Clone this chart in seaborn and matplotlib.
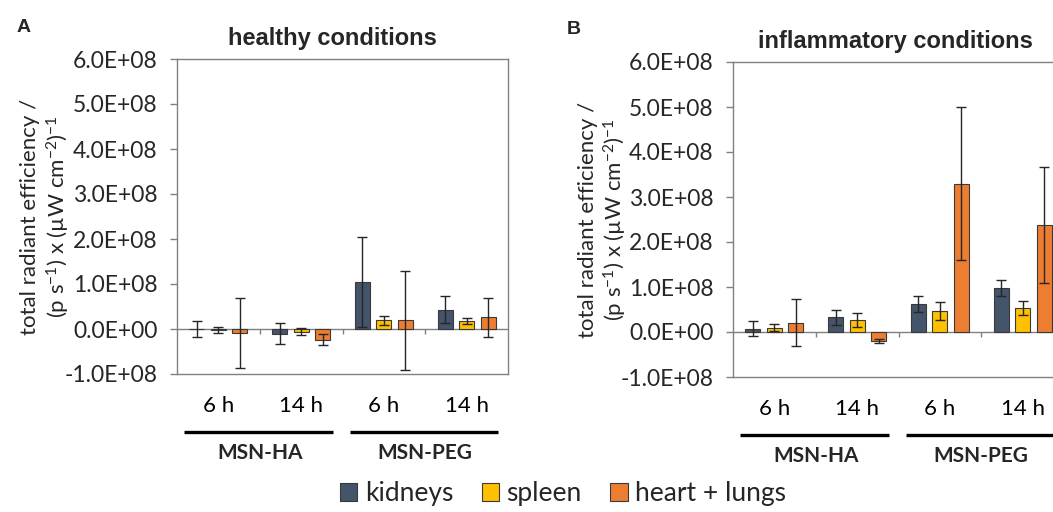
import numpy as np
import pandas as pd
import seaborn as sns
import matplotlib as mpl
from matplotlib import pyplot as plt
from matplotlib.patches import Patch
from matplotlib.ticker import FuncFormatter, MultipleLocator

# categories
conditions = ["MSN-HA 6 h", "MSN-HA 14 h", "MSN-PEG 6 h", "MSN-PEG 14 h"]
time_labels = ["6 h", "14 h", "6 h", "14 h"]
particles = ["MSN-HA", "MSN-PEG"]
organs = ["kidneys", "spleen", "heart + lungs"]
colors = ["#44546A", "#FFC000", "#ED7D31"]

# healthy conditions (mean / sd), order follows `conditions`
healthy_kidneys = [0.00e8, -0.10e8, 1.04e8, 0.43e8]
healthy_spleen = [-0.015e8, -0.06e8, 0.19e8, 0.18e8]
healthy_heart = [-0.08e8, -0.24e8, 0.19e8, 0.26e8]
healthy_kidneys_sd = [0.17e8, 0.24e8, 1.00e8, 0.30e8]
healthy_spleen_sd = [0.07e8, 0.08e8, 0.10e8, 0.065e8]
healthy_heart_sd = [0.78e8, 0.12e8, 1.09e8, 0.43e8]

# inflammatory conditions
inflam_kidneys = [0.075e8, 0.33e8, 0.62e8, 0.98e8]
inflam_spleen = [0.10e8, 0.27e8, 0.47e8, 0.53e8]
inflam_heart = [0.21e8, -0.20e8, 3.30e8, 2.38e8]
inflam_kidneys_sd = [0.17e8, 0.17e8, 0.17e8, 0.17e8]
inflam_spleen_sd = [0.075e8, 0.16e8, 0.20e8, 0.16e8]
inflam_heart_sd = [0.53e8, 0.055e8, 1.71e8, 1.29e8]


def make_frame(kid, spl, hea, kid_sd, spl_sd, hea_sd):
    rows = []
    for org, vals, sds in zip(organs, [kid, spl, hea], [kid_sd, spl_sd, hea_sd]):
        for cond, v, s in zip(conditions, vals, sds):
            rows.append({"cond": cond, "organ": org, "value": v, "sd": s})
    return pd.DataFrame(rows)


sns.set_style("white")
plt.rcParams["font.family"] = ["Lato", "DejaVu Sans"]
plt.rcParams["mathtext.fontset"] = "custom"
plt.rcParams["mathtext.rm"] = "Lato"
plt.rcParams["mathtext.it"] = "Lato"

fig = plt.figure(figsize=(10.53, 5.12), dpi=100)
ax_a = fig.add_axes([177 / 1053, 138 / 512, 331 / 1053, 315 / 512])
ax_b = fig.add_axes([733 / 1053, 135 / 512, 331 / 1053, 315 / 512])

ylabel = "total radiant efficiency /\n(p s$^{-1}$) x (µW cm$^{-2}$)$^{-1}$"


def draw_panel(ax, df, title, title_x, label_x):
    sns.barplot(data=df, x="cond", y="value", hue="organ", order=conditions,
                hue_order=organs, palette=colors, saturation=1, width=0.78,
                gap=0.31, errorbar=None, edgecolor="#3a3a3a", linewidth=0.8,
                legend=False, ax=ax, zorder=3)
    for cont, org in zip(ax.containers, organs):
        sub = df[df.organ == org].set_index("cond").loc[conditions]
        xs = [b.get_x() + b.get_width() / 2 for b in cont]
        ax.errorbar(xs, sub["value"], yerr=sub["sd"], fmt="none",
                    ecolor="#262626", elinewidth=1.0, capsize=3.5,
                    capthick=1.0, zorder=4)
    ax.axhline(0, color="#808080", lw=1.0, zorder=2)
    ax.vlines([0.5, 1.5, 2.5], -0.12e8, 0, color="#808080", lw=1.0, zorder=2)
    ax.set_xlim(-0.5, 3.5)
    ax.set_ylim(-1e8, 6e8)
    ax.yaxis.set_major_locator(MultipleLocator(1e8))
    ax.yaxis.set_major_formatter(FuncFormatter(lambda v, p: f"{v:.1E}"))
    ax.set_xticks(range(len(conditions)))
    ax.set_xticklabels(time_labels)
    ax.tick_params(axis="x", length=0, pad=16, labelsize=16, colors="black")
    ax.tick_params(axis="y", left=True, length=5, width=1, color="#808080",
                   labelsize=16.5, pad=9)
    for sp in ax.spines.values():
        sp.set_color("#808080")
        sp.set_linewidth(1.0)
    ax.set_xlabel("")
    ax.set_ylabel(ylabel, fontsize=16, linespacing=1.2)
    ax.yaxis.set_label_coords(label_x, 0.5)
    ax.set_title(title, fontsize=17, fontweight="bold", x=title_x,
                 family=["Liberation Sans", "DejaVu Sans"], pad=10)
    trans = ax.get_xaxis_transform()
    for i, name in enumerate(particles):
        x0, x1 = 2 * i - 0.415, 2 * i + 1.385
        ax.plot([x0, x1], [-0.184, -0.184], color="black", lw=2.4,
                transform=trans, clip_on=False, solid_capstyle="butt")
        ax.text(2 * i + 0.5, -0.252, name, transform=trans, ha="center",
                va="center", fontsize=15, fontweight="bold")


df_a = make_frame(healthy_kidneys, healthy_spleen, healthy_heart,
                  healthy_kidneys_sd, healthy_spleen_sd, healthy_heart_sd)
df_b = make_frame(inflam_kidneys, inflam_spleen, inflam_heart,
                  inflam_kidneys_sd, inflam_spleen_sd, inflam_heart_sd)
draw_panel(ax_a, df_a, "healthy conditions", 0.47, -0.318)
draw_panel(ax_b, df_b, "inflammatory conditions", 0.49, -0.313)

fig.text(17 / 1053, 1 - 27 / 512, "A", fontsize=14, fontweight="bold",
         family=["Liberation Sans", "DejaVu Sans"], va="center")
fig.text(567 / 1053, 1 - 30 / 512, "B", fontsize=14, fontweight="bold",
         family=["Liberation Sans", "DejaVu Sans"], va="center")

handles = [Patch(facecolor=c, edgecolor="#3a3a3a", linewidth=0.8, label=o)
           for c, o in zip(colors, organs)]
fig.legend(handles=handles, loc="center", bbox_to_anchor=(563 / 1053, 1 - 494 / 512),
           ncol=3, frameon=False, fontsize=19, handlelength=0.65,
           handleheight=0.65, handletextpad=0.3, columnspacing=1.08)

fig.savefig("out.png", dpi=100)
